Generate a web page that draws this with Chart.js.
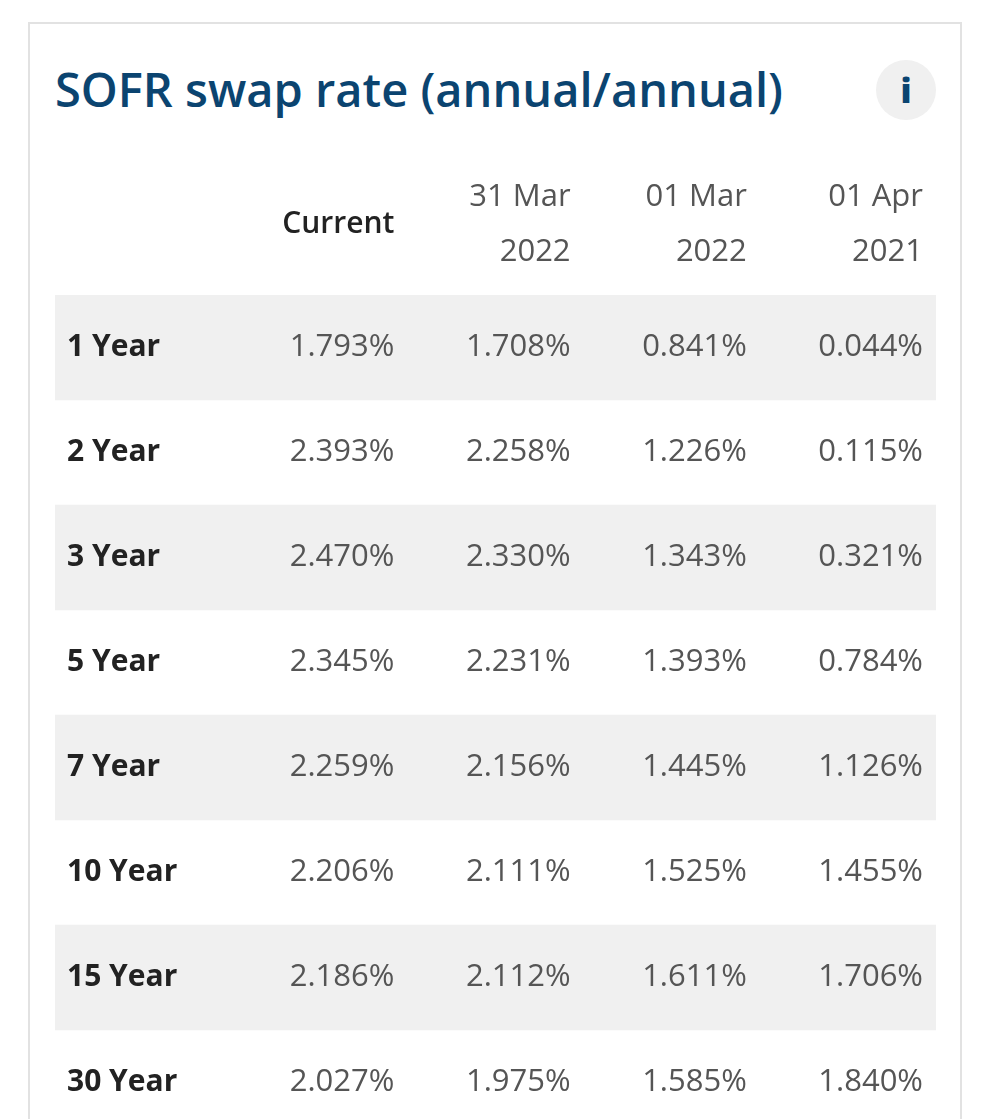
<!DOCTYPE html>
<html>
<head>
<meta charset="utf-8">
<script src="https://cdn.jsdelivr.net/npm/chart.js@4"></script>
<style>
    html, body { margin: 0; padding: 0; background: #fff; width: 984px; height: 1119px; overflow: hidden; }
    .card {
        position: absolute; left: 28px; top: 22px; width: 934px; height: 1200px;
        border: 2px solid #e2e2e2; box-sizing: border-box; background: #fff;
    }
    .title {
        position: absolute; left: 55px; top: 57px; margin: 0;
        font-family: "Open Sans", sans-serif; font-weight: 600; font-size: 47px;
        color: #0b4470; line-height: 64px; white-space: nowrap;
    }
    .info {
        position: absolute; left: 876px; top: 60px; width: 60px; height: 60px;
        border-radius: 50%; background: #f0f0f0; color: #0b4470;
        font-family: "Open Sans", sans-serif; font-weight: 800; font-size: 34px;
        text-align: center; line-height: 60px;
    }
    #wrap { position: absolute; left: 55px; top: 150px; width: 881px; height: 985px; }
</style>
</head>
<body>
<div class="card"></div>
<h1 class="title">SOFR swap rate (annual/annual)</h1>
<div class="info">i</div>
<div id="wrap"><canvas id="sofrTable"></canvas></div>
<script>
const tenors = ['1 Year', '2 Year', '3 Year', '5 Year', '7 Year', '10 Year', '15 Year', '30 Year'];
const columnHeaders = [['Current'], ['31 Mar', '2022'], ['01 Mar', '2022'], ['01 Apr', '2021']];
const current = [1.793, 2.393, 2.470, 2.345, 2.259, 2.206, 2.186, 2.027];
const mar31_2022 = [1.708, 2.258, 2.330, 2.231, 2.156, 2.111, 2.112, 1.975];
const mar01_2022 = [0.841, 1.226, 1.343, 1.393, 1.445, 1.525, 1.611, 1.585];
const apr01_2021 = [0.044, 0.115, 0.321, 0.784, 1.126, 1.455, 1.706, 1.840];

const valueColumns = [current, mar31_2022, mar01_2022, apr01_2021];
const columnCount = valueColumns.length + 1;

// every other row gets a grey band across the whole table
const stripes = tenors.map((t, i) => i % 2 === 0 ? [0, columnCount] : null);

const cellTextPlugin = {
    id: 'cellText',
    afterDatasetsDraw(chart) {
        const ctx = chart.ctx;
        const x = chart.scales.x;
        const y = chart.scales.y;
        const area = chart.chartArea;
        const pad = 13;

        ctx.save();
        ctx.textBaseline = 'middle';

        // header
        columnHeaders.forEach((lines, c) => {
            const right = x.getPixelForValue(c + 2) - pad;
            ctx.textAlign = 'right';
            if (lines.length === 1) {
                ctx.font = '600 30px "Open Sans"';
                ctx.fillStyle = '#222';
                ctx.fillText(lines[0], right, area.top - 71);
            } else {
                ctx.font = '31px "Open Sans"';
                ctx.fillStyle = '#555';
                ctx.fillText(lines[0], right, area.top - 98);
                ctx.fillText(lines[1], right, area.top - 43);
            }
        });

        // rows
        tenors.forEach((tenor, r) => {
            const cy = y.getPixelForValue(r);
            ctx.textAlign = 'left';
            ctx.font = '700 30px "Open Sans"';
            ctx.fillStyle = '#222';
            ctx.fillText(tenor, x.getPixelForValue(0) + 12, cy);

            ctx.textAlign = 'right';
            ctx.font = '31px "Open Sans"';
            ctx.fillStyle = '#555';
            valueColumns.forEach((col, c) => {
                ctx.fillText(col[r].toFixed(3) + '%', x.getPixelForValue(c + 2) - pad, cy);
            });
        });
        ctx.restore();
    }
};

new Chart(document.getElementById('sofrTable'), {
    type: 'bar',
    data: {
        labels: tenors,
        datasets: [{
            data: stripes,
            backgroundColor: '#f0f0f0',
            borderWidth: 0,
            barPercentage: 1,
            categoryPercentage: 1
        }]
    },
    options: {
        indexAxis: 'y',
        responsive: true,
        maintainAspectRatio: false,
        animation: false,
        layout: { padding: { top: 145 } },
        scales: {
            x: { type: 'linear', min: 0, max: columnCount, display: false },
            y: { type: 'category', display: false }
        },
        plugins: {
            legend: { display: false },
            tooltip: { enabled: false }
        }
    },
    plugins: [cellTextPlugin]
});
</script>
</body>
</html>
